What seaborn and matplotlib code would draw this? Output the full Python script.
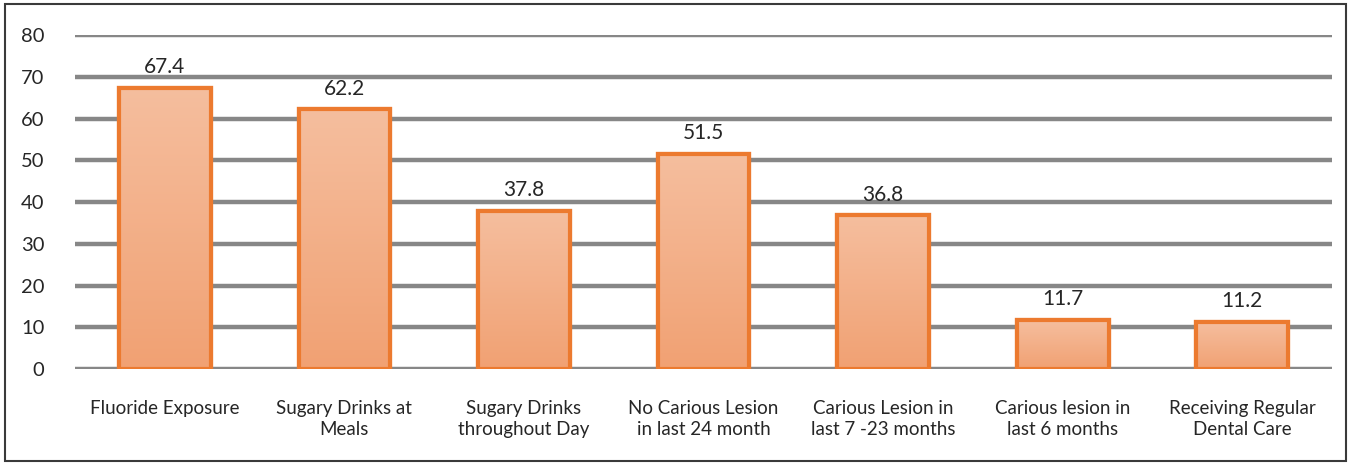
import pandas as pd
import matplotlib.pyplot as plt
import seaborn as sns
import numpy as np

categories = [
    "Fluoride Exposure",
    "Sugary Drinks at\nMeals",
    "Sugary Drinks\nthroughout Day",
    "No Carious Lesion\nin last 24 month",
    "Carious Lesion in\nlast 7 -23 months",
    "Carious lesion in\nlast 6 months",
    "Receiving Regular\nDental Care",
]
values = [67.4, 62.2, 37.8, 51.5, 36.8, 11.7, 11.2]
yticks = [0, 10, 20, 30, 40, 50, 60, 70, 80]

df = pd.DataFrame({"category": categories, "value": values})

sns.set_style("white")
plt.rcParams["font.family"] = ["Lato", "DejaVu Sans"]

fig = plt.figure(figsize=(13.51, 4.65), dpi=100)
ax = fig.add_axes([0.0555, 0.2065, 0.9305, 0.718])

# outer frame around whole chart
fig.patches.append(plt.Rectangle((0.004, 0.008), 0.992, 0.984, transform=fig.transFigure,
                                 fill=False, edgecolor="#3a3a3a", linewidth=1.5))

for t in yticks:
    ax.axhline(t, color="#878787", linewidth=3.2, zorder=0)

sns.barplot(data=df, x="category", y="value", color="#F4B792", saturation=1,
            width=0.51, edgecolor="#EC7A2F", linewidth=3, ax=ax, zorder=2)

# soft vertical gradient inside bars
cmap = plt.matplotlib.colors.LinearSegmentedColormap.from_list("g", ["#F1A173", "#F5BE9E"])
for p in ax.patches:
    x0, y0 = p.get_x(), p.get_y()
    w, h = p.get_width(), p.get_height()
    grad = np.linspace(0, 1, 100).reshape(-1, 1)
    im = ax.imshow(grad, extent=[x0, x0 + w, y0, y0 + h], aspect="auto",
                   cmap=cmap, origin="lower", zorder=2.5)
    im.set_clip_path(p)
    ax.add_patch(plt.Rectangle((x0, y0), w, h, fill=False, edgecolor="#EC7A2F",
                               linewidth=3, zorder=3))

for i, v in enumerate(values):
    ax.text(i, v + 2.6, f"{v}", ha="center", va="bottom", fontsize=15, color="#262626")

ax.set_xlim(-0.5, len(categories) - 0.5)
ax.set_ylim(0, 80)
ax.set_yticks(yticks)
ax.set_yticklabels([str(t) for t in yticks], fontsize=14.5, color="#262626")
ax.tick_params(axis="y", length=0, pad=22)
ax.tick_params(axis="x", length=0, pad=22)
for lbl in ax.get_xticklabels():
    lbl.set_fontsize(13.5)
    lbl.set_color("#262626")
    lbl.set_linespacing(1.35)
ax.set_xlabel("")
ax.set_ylabel("")
for s in ax.spines.values():
    s.set_visible(False)

fig.savefig("out.png", dpi=100)
